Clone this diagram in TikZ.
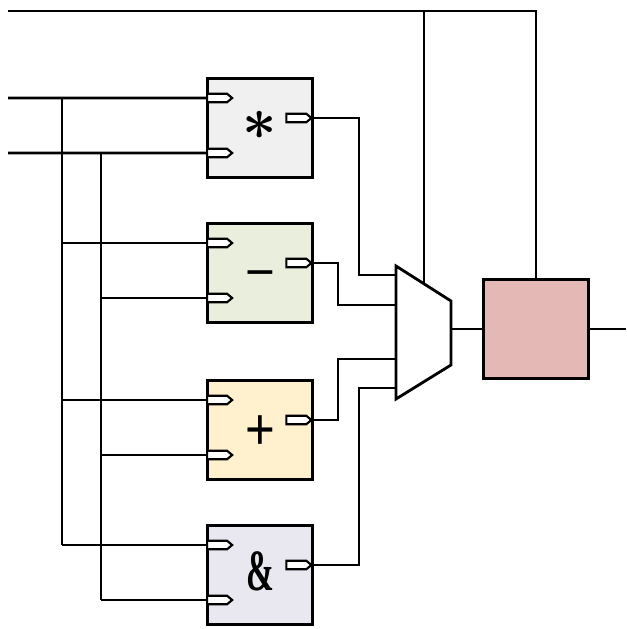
\documentclass[tikz,border=0pt]{standalone}
\usepackage{amsmath}
\usepackage{graphicx}
\usepackage{fontspec}
\newfontfamily\opfont{Liberation Sans}
\newfontfamily\ampfont{Liberation Serif}
\usepackage{tikz}
\usetikzlibrary{positioning,shapes.symbols,calc}
\definecolor{mulfill}{HTML}{F0F0F0}
\definecolor{subfill}{HTML}{E9EEDD}
\definecolor{addfill}{HTML}{FFF1CE}
\definecolor{andfill}{HTML}{E9E7EF}
\definecolor{regfill}{HTML}{E4B8B5}
\newcommand{\newUnit}[4]{\node[opbox,fill=#3,#4](#1){#2};
  \node[inpin,anchor=west,yshift=0.6cm](#1a) at (#1.west) {};
  \node[inpin,anchor=west,yshift=-0.5cm](#1b) at (#1.west) {};
  \node[inpin,anchor=east,yshift=0.2cm,xshift=-0.5pt](#1o) at (#1.east) {};}

\begin{document}
\begin{tikzpicture}[
    % One unit is one pixel of the sketch
    x=0.02cm, y=-0.02cm,
    % Wire stroke
    line width=1.6pt,
    opbox/.style={draw, line width=1.6pt, minimum width=2.1cm, minimum height=1.98cm, inner sep=0pt},
    inpin/.style={signal, signal to=east, draw, fill=white, line width=1.2pt,
      signal pointer angle=80, minimum width=0.5cm, minimum height=0.17cm, inner sep=0pt}
    ]
    \useasboundingbox (0,0) rectangle (626,629);

    \newUnit{mul}{\raisebox{0pt}[\height][\dimexpr\depth+3.4pt\relax]{\scalebox{3.4}{\boldmath$\ast$}}}{mulfill}{at={(260,128)}}
    \newUnit{sub}{\raisebox{0pt}[\dimexpr\height+8pt\relax]{\opfont\fontsize{29}{29}\selectfont −}}{subfill}{at={(260,273)}}
    \newUnit{add}{\raisebox{0pt}[\dimexpr\height+3.4pt\relax]{\scalebox{1}[1.15]{\opfont\fontsize{29}{29}\selectfont +}}}{addfill}{at={(260,430)}}
    \newUnit{and}{\raisebox{0pt}[\height][\dimexpr\depth+4.5pt\relax]{\scalebox{1}[1.75]{\ampfont\bfseries\fontsize{19}{19}\selectfont\&}}}{andfill}{at={(260,575)}}

    \node[opbox, fill=regfill, at={(536,329)}] (reg) {};

    % operands
    \coordinate (inA) at (8,98);
    \coordinate (inB) at (8,153);
    \coordinate (busA) at (62,0);
    \coordinate (busB) at (101,0);
    \draw (inA) -- (mula.west);
    \draw (inB) -- (mulb.west);
    \draw (busA |- mula) -- (busA |- anda);
    \draw (busB |- mulb) -- (busB |- andb);
    \foreach \u in {sub,add,and} {
      \draw (busA |- \u a) -- (\u a.west);
      \draw (busB |- \u b) -- (\u b.west);
    }

    % multiplexer
    \coordinate (muxTL) at (396,266);
    \coordinate (muxTR) at (451,301);
    \coordinate (muxBR) at (451,365);
    \coordinate (muxBL) at (396,399);
    \coordinate (muxA) at (396,275);
    \coordinate (muxB) at (396,305);
    \coordinate (muxC) at (396,359);
    \coordinate (muxD) at (396,388);
    \coordinate (muxS) at ($(muxTL)!0.51!(muxTR)$);
    \coordinate (jogO) at (359,0);
    \coordinate (jogI) at (338,0);
    \draw (mulo.east) -| (jogO |- muxA) -- (muxA);
    \draw (subo.east) -| (jogI |- muxB) -- (muxB);
    \draw (addo.east) -| (jogI |- muxC) -- (muxC);
    \draw (ando.east) -| (jogO |- muxD) -- (muxD);

    % select and result
    \coordinate (selIn) at (8,11);
    \coordinate (regOut) at (626,329);
    \draw (selIn) -| (reg.north);
    \draw (selIn -| muxS) -- (muxS);
    \draw (muxTR |- reg.west) -- (reg.west);
    \draw (reg.east) -- (regOut);
    \draw[fill=white] (muxTL) -- (muxTR) -- (muxBR) -- (muxBL) -- cycle;
  \end{tikzpicture}
\end{document}
